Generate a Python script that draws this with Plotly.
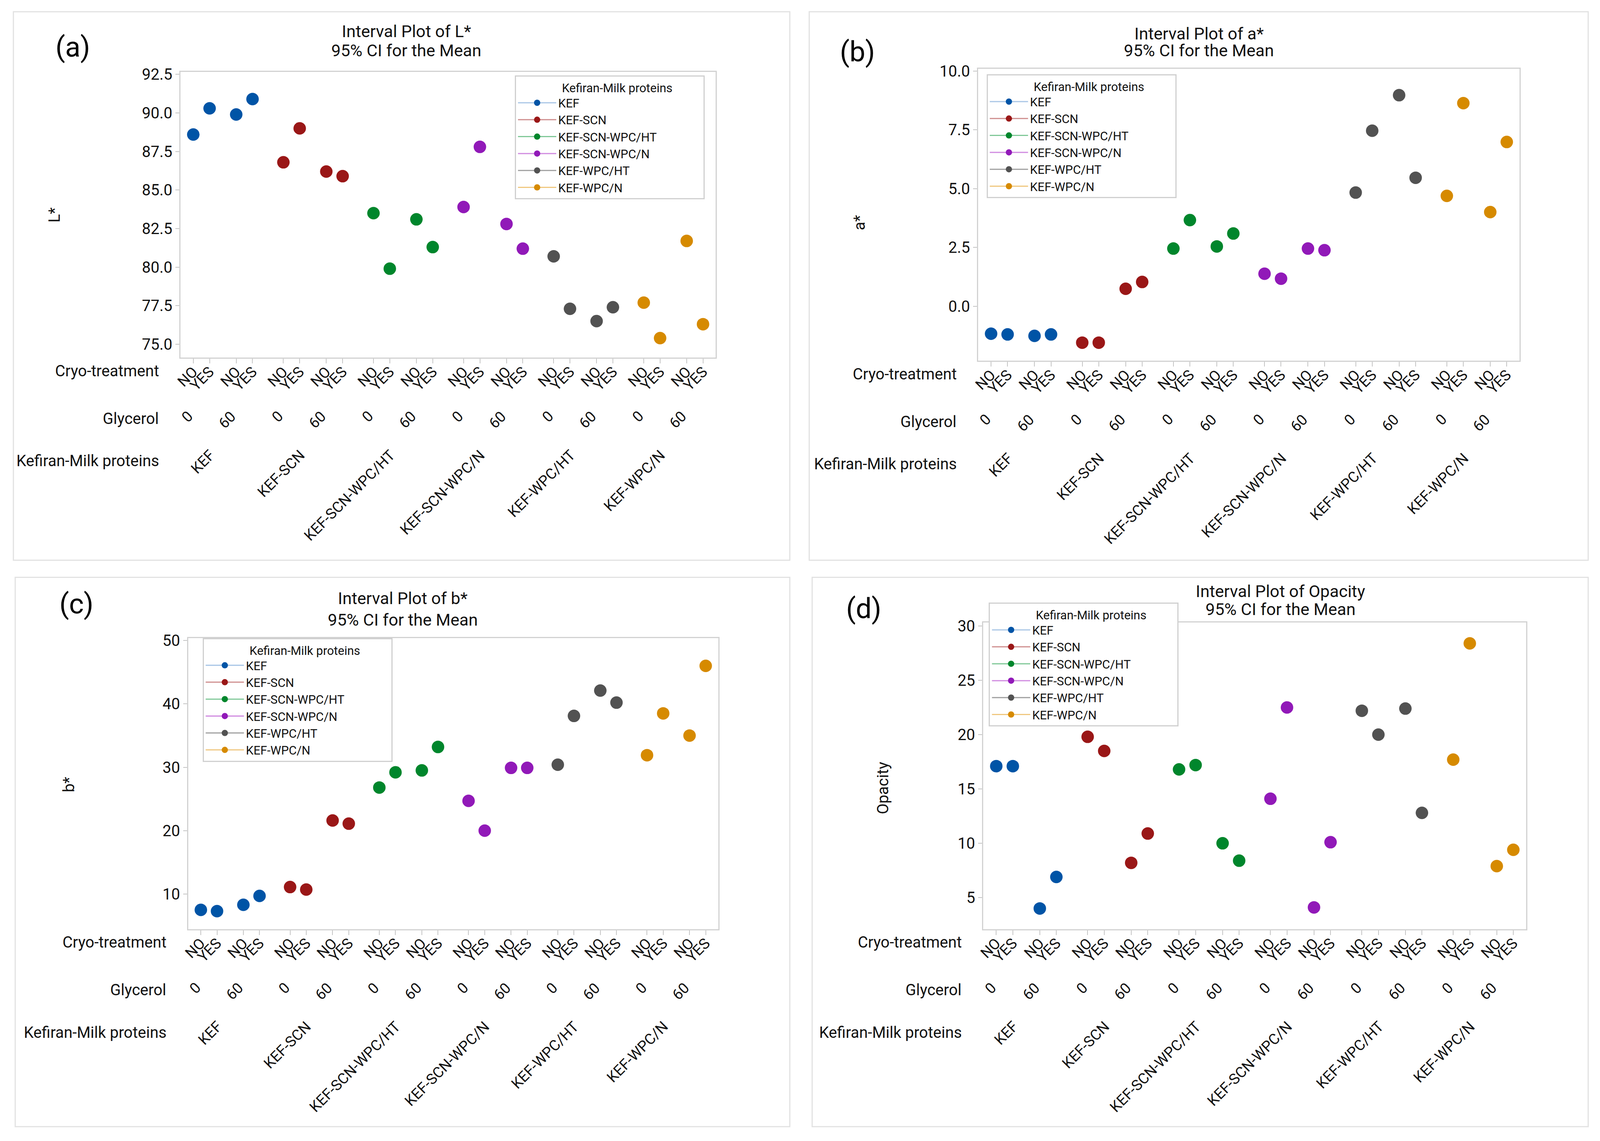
import plotly.graph_objects as go

# reference geometry is measured on a 4353 x 2920 canvas; the page shows about 4090 x 2910 px
W_REF, H_REF = 4353, 2920
FIG_W, FIG_H = 4085, 2905

proteins = ["KEF", "KEF-SCN", "KEF-SCN-WPC/HT", "KEF-SCN-WPC/N", "KEF-WPC/HT", "KEF-WPC/N"]
glycerol = ["0", "60"]
cryo = ["NO", "YES"]

# means, ordered protein -> glycerol -> cryo-treatment
L_star = [88.6, 90.3, 89.9, 90.9, 86.8, 89.0, 86.2, 85.9,
          83.5, 79.9, 83.1, 81.3, 83.9, 87.8, 82.8, 81.2,
          80.7, 77.3, 76.5, 77.4, 77.7, 75.4, 81.7, 76.3]
a_star = [-1.17, -1.20, -1.26, -1.20, -1.55, -1.55, 0.74, 1.03,
          2.45, 3.66, 2.54, 3.09, 1.38, 1.17, 2.45, 2.38,
          4.83, 7.46, 8.97, 5.46, 4.69, 8.63, 4.00, 6.98]
b_star = [7.5, 7.3, 8.3, 9.7, 11.1, 10.7, 21.6, 21.1,
          26.8, 29.2, 29.5, 33.2, 24.7, 20.0, 29.9, 29.9,
          30.4, 38.1, 42.1, 40.2, 31.9, 38.5, 35.0, 46.0]
opacity = [17.1, 17.1, 4.0, 6.9, 19.8, 18.5, 8.2, 10.9,
           16.8, 17.2, 10.0, 8.4, 14.1, 22.5, 4.1, 10.1,
           22.2, 20.0, 22.4, 12.8, 17.7, 28.4, 7.9, 9.4]

colors = ["#0054a6", "#9a1717", "#00862c", "#9119b8", "#525252", "#d68a00"]
legend_line_colors = ["#a9c6e6", "#cf8e8e", "#80c898", "#d08ae0", "#a0a0a0", "#f0c880"]

FONT = "Roboto"
NB = "\u00a0"


def px(x):
    return x / W_REF


def py(y):
    return 1 - y / H_REF


# x layout: NO/YES side by side, gap between glycerol levels, wider gap between proteins
GLY_STEP = 2.63
PROT_STEP = 5.52
xpos = [p * PROT_STEP + g * GLY_STEP + c for p in range(6) for g in range(2) for c in range(2)]
xlabels = [cryo[c] for p in range(6) for g in range(2) for c in range(2)]

panels = [
    dict(tag="(a)", name="L*", values=L_star, yrange=[74.13, 92.66], tick0=75, dtick=2.5, fmt=".1f",
         box=(28, 22, 2146, 1433), plot=(484, 177, 1944, 912), title=(1100, 72, 122),
         tagxy=(190, 113), ylabxy=(140, 545), leg=(1396, 186)),
    dict(tag="(b)", name="a*", values=a_star, yrange=[-2.32, 10.09], tick0=0, dtick=2.5, fmt=".1f",
         box=(2199, 22, 4324, 1433), plot=(2660, 169, 4137, 920), title=(3262, 78, 122),
         tagxy=(2330, 125), ylabxy=(2336, 565), leg=(2683, 183)),
    dict(tag="(c)", name="b*", values=b_star, yrange=[4.46, 50.4], tick0=10, dtick=10, fmt="d",
         box=(33, 1477, 2146, 2890), plot=(505, 1633, 1951, 2382), title=(1090, 1531, 1586),
         tagxy=(200, 1545), ylabxy=(180, 2010), leg=(544, 1633)),
    dict(tag="(d)", name="Opacity", values=opacity, yrange=[2.1, 30.33], tick0=5, dtick=5, fmt="d",
         box=(2207, 1477, 4324, 2890), plot=(2674, 1593, 4155, 2382), title=(3485, 1513, 1559),
         tagxy=(2348, 1557), ylabxy=(2400, 2019), leg=(2689, 1542)),
]

fig = go.Figure()
layout = dict(width=FIG_W, height=FIG_H, margin=dict(l=0, r=0, t=0, b=0),
              paper_bgcolor="white", plot_bgcolor="white",
              font=dict(family=FONT, size=40, color="#111111"))
annotations = []
shapes = []

for i, P in enumerate(panels):
    sfx = "" if i == 0 else str(i + 1)
    xref, yref = "x" + sfx, "y" + sfx
    legname = "legend" + sfx
    vals = P["values"]

    for j, prot in enumerate(proteins):
        xs, ys = [], []
        for k in range(4):
            xs += [xpos[j * 4 + k], None]
            ys += [vals[j * 4 + k], None]
        fig.add_trace(go.Scatter(
            x=xs, y=ys, mode="lines+markers", name=prot,
            xaxis=xref, yaxis=yref, legend=legname,
            marker=dict(color=colors[j], size=32),
            line=dict(color=legend_line_colors[j], width=3),
            connectgaps=False))

    l, t, r, b = P["plot"]
    layout["xaxis" + sfx] = dict(
        domain=[px(l), px(r)], anchor=yref, range=[-0.78, xpos[-1] + 0.78],
        tickmode="array", tickvals=xpos, ticktext=xlabels, tickangle=-45,
        tickfont=dict(size=38), ticks="outside", ticklen=12, tickwidth=2, tickcolor="#c4c4c4",
        ticklabelstandoff=-16,
        showline=True, mirror=True, linecolor="#d2d2d2", linewidth=3,
        showgrid=False, zeroline=False, automargin=False)
    layout["yaxis" + sfx] = dict(
        domain=[py(b), py(t)], anchor=xref, range=P["yrange"],
        tickmode="linear", tick0=P["tick0"], dtick=P["dtick"], tickformat=P["fmt"],
        tickfont=dict(size=40), ticks="outside", ticklen=10, tickwidth=2, tickcolor="#c4c4c4",
        showline=True, mirror=True, linecolor="#d2d2d2", linewidth=3,
        showgrid=False, zeroline=False, automargin=False)

    lx, ly = P["leg"]
    layout[legname] = dict(
        x=px(lx), y=py(ly), xanchor="left", yanchor="top", xref="paper", yref="paper",
        bgcolor="white", bordercolor="#d0d0d0", borderwidth=3,
        font=dict(size=31), itemwidth=98, traceorder="normal",
        title=dict(text=NB * 15 + "Kefiran-Milk proteins" + NB * 10, side="top", font=dict(size=31)))

    # outer panel frame
    bl, bt, br, bb = P["box"]
    shapes.append(dict(type="rect", xref="paper", yref="paper",
                       x0=px(bl), x1=px(br), y0=py(bb), y1=py(bt),
                       line=dict(color="#e2e2e2", width=3), layer="below"))

    # titles, panel tag and y-axis title
    tx, ty1, ty2 = P["title"]
    for txt, ty in [("Interval Plot of " + P["name"], ty1), ("95% CI for the Mean", ty2)]:
        annotations.append(dict(text=txt, x=px(tx), y=py(ty), xanchor="center", yanchor="middle",
                                xref="paper", yref="paper", showarrow=False, font=dict(size=43)))
    annotations.append(dict(text=P["tag"], x=px(P["tagxy"][0]), y=py(P["tagxy"][1]),
                            xanchor="center", yanchor="middle", xref="paper", yref="paper",
                            showarrow=False, font=dict(size=72, color="#000000")))
    annotations.append(dict(text=P["name"], x=px(P["ylabxy"][0]), y=py(P["ylabxy"][1]), textangle=-90,
                            xanchor="center", yanchor="middle", xref="paper", yref="paper",
                            showarrow=False, font=dict(size=40)))

    # row labels for the nested x categories
    for txt, dy in [("Cryo-treatment", 34), ("Glycerol", 157), ("Kefiran-Milk proteins", 266)]:
        annotations.append(dict(text=txt, x=px(l - 57), y=py(b + dy), xanchor="right", yanchor="middle",
                                xref="paper", yref="paper", showarrow=False, font=dict(size=40)))
    for p in range(6):
        for g in range(2):
            annotations.append(dict(text=glycerol[g], x=p * PROT_STEP + g * GLY_STEP + 0.5, xref=xref,
                                    y=py(b + 126), yref="paper", xanchor="right", yanchor="top",
                                    xshift=-10, textangle=-45, showarrow=False, font=dict(size=38)))
        annotations.append(dict(text=proteins[p], x=p * PROT_STEP + (GLY_STEP + 1) / 2, xref=xref,
                                y=py(b + 226), yref="paper", xanchor="right", yanchor="top",
                                xshift=-10, textangle=-45, showarrow=False, font=dict(size=38)))

layout["annotations"] = annotations
layout["shapes"] = shapes
layout["showlegend"] = True
fig.update_layout(**layout)

fig.write_html("out.html")
